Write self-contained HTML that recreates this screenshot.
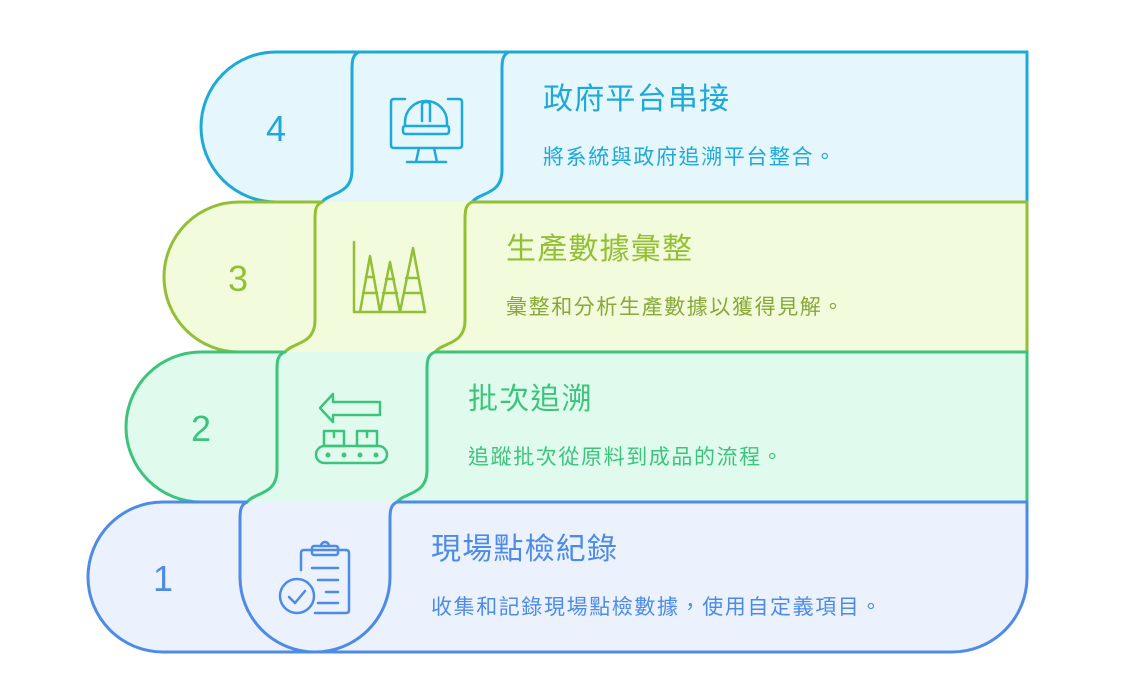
<!DOCTYPE html>
<html><head><meta charset="utf-8"><style>
html,body{margin:0;padding:0;background:#fff;width:1127px;height:700px;overflow:hidden}
svg{display:block}
text{font-family:"Liberation Sans","Noto Sans CJK TC",sans-serif}
</style></head><body>
<svg width="1127" height="700" viewBox="0 0 1127 700" xmlns="http://www.w3.org/2000/svg">
<path d="M276,52 H1027 V202 H276 A75 75 0 0 1 276,52Z" fill="#e5f6fd"/>
<path d="M239,202 H1027 V352 H239 A75 75 0 0 1 239,202Z" fill="#f2fcdc"/>
<path d="M201,352 H1027 V502 H201 A75 75 0 0 1 201,352Z" fill="#e0fbee"/>
<path d="M163,502 H1027 V577 A75 75 0 0 1 952,652 H163 A75 75 0 0 1 163,502Z" fill="#ebf2fe"/>
<g fill="none" stroke-width="3" stroke-linecap="round">
<g stroke="#1eaad9">
<path d="M1027,52 H276 A75 75 0 0 0 276,202"/>
<path d="M1027,52 V202"/>
<path d="M359,52 C352,55 352,62 352,70 V170 C352,195 330,192 322,202"/>
<path d="M509,52 C502,55 502,62 502,70 V170 C502,195 480,192 472,202"/>
</g>
<g stroke="#93bf35">
<path d="M1027,202 H472 M322,202 H239 A75 75 0 0 0 239,352"/>
<path d="M1027,202 V352"/>
<path d="M322,202 C315,205 315,212 315,220 V320 C315,345 293,342 285,352"/>
<path d="M472,202 C465,205 465,212 465,220 V320 C465,345 443,342 435,352"/>
</g>
<g stroke="#3cc47c">
<path d="M1027,352 H435 M285,352 H201 A75 75 0 0 0 201,502"/>
<path d="M1027,352 V502"/>
<path d="M285,352 C277,355 277,362 277,370 V470 C277,495 255,492 247,502"/>
<path d="M435,352 C427,355 427,362 427,370 V470 C427,495 405,492 397,502"/>
</g>
<g stroke="#4d8be6">
<path d="M1027,502 H397 M247,502 H163 A75 75 0 0 0 163,652 H952 A75 75 0 0 0 1027,577 V502"/>
<path d="M247,502 C240,505 240,512 240,520 V577 A75 75 0 0 0 390,577 V520 C390,512 390,505 397,502"/>
</g>
</g>
<g font-size="36" text-anchor="middle">
<text x="276" y="141" fill="#1eaad9">4</text>
<text x="238" y="291" fill="#93bf35">3</text>
<text x="201" y="441" fill="#3cc47c">2</text>
<text x="163" y="591" fill="#4d8be6">1</text>
</g>
<g>
<text x="543" y="109" font-size="30" letter-spacing="1.2" fill="#1eaad9">政府平台串接</text>
<text x="543" y="164" font-size="21" letter-spacing="1.6" fill="#1eaad9">將系統與政府追溯平台整合。</text>
<text x="506" y="259" font-size="30" letter-spacing="1.2" fill="#93bf35">生產數據彙整</text>
<text x="506" y="314" font-size="21" letter-spacing="1.6" fill="#88a838">彙整和分析生產數據以獲得見解。</text>
<text x="468" y="409" font-size="30" letter-spacing="1.2" fill="#3cc47c">批次追溯</text>
<text x="468" y="464" font-size="21" letter-spacing="1.6" fill="#3cc47c">追蹤批次從原料到成品的流程。</text>
<text x="431" y="559" font-size="30" letter-spacing="1.2" fill="#4d8be6">現場點檢紀錄</text>
<text x="431" y="614" font-size="21" letter-spacing="1.6" fill="#4d8be6">收集和記錄現場點檢數據，使用自定義項目。</text>
</g>
<g fill="none" stroke-width="2.5" stroke-linecap="round" stroke-linejoin="round">
<g stroke="#1eaad9">
<path d="M405,99 H394 Q391,99 391,102 V145 Q391,148 394,148 H459 Q462,148 462,145 V102 Q462,99 459,99 H448"/>
<path d="M419,148 L416,162 M434,148 L437,162 M407,162 H446"/>
<path d="M405,126 V122 A21 21 0 0 1 447,122 V126 M405,126 H447 Q449,126 449,129 V131 Q449,134 446,134 H406 Q403,134 403,131 V129 Q403,126 405,126Z"/>
<path d="M422,121 V105 Q422,102 426,102 H427 Q430,102 430,105 V121"/>
</g>
<g stroke="#93bf35">
<path d="M354,242 V312 H425"/>
<path d="M360,312 L370,256 L380,312 M380,312 L390,262 L400,312 M400,312 L413,248 L425,312"/>
<path d="M363,293 H377 M366,277 H374 M383,293 H397 M386,279 H394 M404,293 H421 M406,278 H418"/>
</g>
<g stroke="#3cc47c">
<path d="M320,408 L333,394 V402 H380 V415 H333 V422Z"/>
<rect x="316" y="446" width="71" height="17" rx="8.5"/>
<rect x="324" y="431" width="20" height="15"/><rect x="357" y="431" width="20" height="15"/>
<path d="M334,431 V437 M367,431 V437"/>
</g>
<g fill="#3cc47c" stroke="none"><circle cx="328" cy="455" r="2.5"/><circle cx="344" cy="455" r="2.5"/><circle cx="360" cy="455" r="2.5"/><circle cx="376" cy="455" r="2.5"/></g>
<g stroke="#4d8be6">
<path d="M301,570 V553 Q301,550 304,550 H346 Q349,550 349,553 V610 Q349,613 346,613 H315"/>
<rect x="312" y="546" width="26" height="9" rx="2"/>
<path d="M321,546 A4 4 0 0 1 329,546"/>
<path d="M312,568 H338 M318,580 H338 M326,592 H338 M318,603 H338"/>
<circle cx="297" cy="596" r="17"/>
<path d="M289,597 L295,603 L305,591"/>
</g>
</g>
</svg>
</body></html>
